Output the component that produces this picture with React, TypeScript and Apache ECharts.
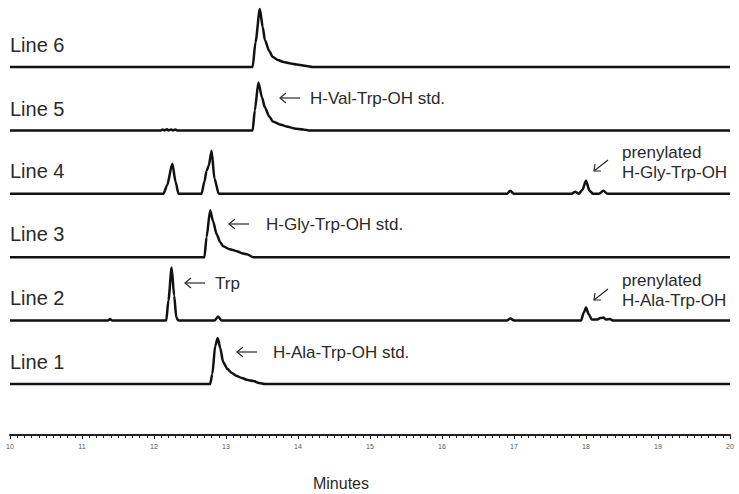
import React, { useEffect, useRef } from "react";
import * as echarts from "echarts";

// Retention time axis (minutes)
const xMin = 10;
const xMax = 20;
const tickLabels = ["10", "11", "12", "13", "14", "15", "16", "17", "18", "19", "20"];

const traceNames = ["Line 1", "Line 2", "Line 3", "Line 4", "Line 5", "Line 6"];

// Detector signal (arbitrary units) per trace, [minutes, signal]
const line1: number[][] = [
  [10, 0], [12.78, 0], [12.81, 10], [12.85, 38], [12.885, 46], [12.92, 36], [12.96, 22],
  [13.02, 15], [13.08, 11], [13.15, 8], [13.22, 6], [13.3, 4], [13.38, 3], [13.46, 1], [13.54, 0], [20, 0],
];
const line2: number[][] = [
  [10, 0], [11.36, 0], [11.39, 1.5], [11.42, 0], [12.17, 0], [12.2, 20], [12.245, 53], [12.28, 25],
  [12.31, 3], [12.34, 0], [12.84, 0], [12.89, 4], [12.94, 0], [16.9, 0], [16.95, 2], [17.0, 0],
  [17.93, 0], [17.97, 8], [18.0, 13], [18.04, 6], [18.08, 1], [18.15, 1], [18.2, 2.5], [18.24, 3],
  [18.28, 1], [18.33, 1.5], [18.38, 0], [20, 0],
];
const line3: number[][] = [
  [10, 0], [12.7, 0], [12.73, 20], [12.78, 47], [12.82, 36], [12.87, 23], [12.92, 15], [12.96, 11],
  [13.05, 8], [13.15, 6], [13.22, 4], [13.29, 3], [13.38, 0], [20, 0],
];
const line4: number[][] = [
  [10, 0], [12.13, 0], [12.18, 8], [12.255, 30], [12.3, 12], [12.34, 0], [12.66, 0], [12.7, 12],
  [12.73, 23], [12.76, 28], [12.8, 43], [12.84, 15], [12.9, 0], [16.9, 0], [16.95, 3], [17.0, 0],
  [17.8, 0], [17.85, 2], [17.9, 0], [17.95, 4], [18.0, 13], [18.05, 3], [18.1, 0], [18.18, 0],
  [18.24, 3], [18.3, 0], [20, 0],
];
const line5: number[][] = [
  [10, 0], [12.1, 0], [12.12, 1], [12.14, 0], [12.18, 1.2], [12.2, 0], [12.24, 1], [12.26, 0],
  [12.3, 0.8], [12.32, 0], [13.37, 0], [13.4, 20], [13.45, 48], [13.5, 33], [13.54, 23], [13.6, 14],
  [13.65, 9], [13.75, 6], [13.84, 4], [13.95, 2], [14.07, 1], [14.15, 0], [20, 0],
];
const line6: number[][] = [
  [10, 0], [13.37, 0], [13.41, 25], [13.47, 58], [13.51, 40], [13.54, 27], [13.6, 16], [13.65, 10],
  [13.72, 7], [13.8, 5], [13.9, 3.5], [13.98, 2.5], [14.12, 1], [14.2, 0], [20, 0],
];
const traces = [line1, line2, line3, line4, line5, line6];

// Vertical stacking of traces (signal units)
const firstOffset = 51;
const offsetStep = 63.4;
const yTop = 435;

const FONT = '"Liberation Sans", Arial, Helvetica, sans-serif';
const INK = "#111";
const TXT = "#2a2a2a";

function leftArrow(x: number, y: number) {
  return [
    { type: "polyline", shape: { points: [[x + 20, y], [x, y]] }, style: { stroke: TXT, lineWidth: 1.2, fill: null } },
    { type: "polyline", shape: { points: [[x + 6, y - 5], [x, y], [x + 6, y + 5]] }, style: { stroke: TXT, lineWidth: 1.2, fill: null } },
  ];
}
function diagArrow(x: number, y: number) {
  // head at (x, y), tail up-right
  return [
    { type: "polyline", shape: { points: [[x + 14, y - 11], [x, y]] }, style: { stroke: TXT, lineWidth: 1.2, fill: null } },
    { type: "polyline", shape: { points: [[x + 1, y - 7], [x, y], [x + 7, y]] }, style: { stroke: TXT, lineWidth: 1.2, fill: null } },
  ];
}
function txt(x: number, y: number, s: string, size: number, align = "left") {
  return {
    type: "text",
    x,
    y,
    style: { text: s, fill: TXT, font: `${size}px ${FONT}`, textAlign: align, textVerticalAlign: "middle" },
  };
}

export default function App() {
  const ref = useRef<HTMLDivElement>(null);
  useEffect(() => {
    if (!ref.current) return;
    const chart = echarts.init(ref.current, null, { renderer: "svg" });
    const series = traces.map((t, i) => ({
      name: traceNames[i],
      type: "line",
      data: t.map(([x, v]) => [x, v + firstOffset + i * offsetStep]),
      showSymbol: false,
      symbol: "none",
      smooth: 0.25,
      smoothMonotone: "x",
      lineStyle: { color: INK, width: 2.5 },
      silent: true,
    }));

    const labelYs = [362, 298, 234, 171, 109, 45];
    const graphic: any[] = [
      ...traceNames.map((n, i) => txt(10, labelYs[i], n, 20)),
      ...leftArrow(280, 98), txt(310, 98, "H-Val-Trp-OH std.", 17),
      ...leftArrow(229, 224), txt(266, 224, "H-Gly-Trp-OH std.", 17),
      ...leftArrow(185, 283), txt(215, 283, "Trp", 17),
      ...leftArrow(237, 352), txt(273, 352, "H-Ala-Trp-OH std.", 17),
      txt(622, 152, "prenylated", 17), txt(622, 172, "H-Gly-Trp-OH", 17), ...diagArrow(594, 171),
      txt(622, 280, "prenylated", 17), txt(622, 300, "H-Ala-Trp-OH", 17), ...diagArrow(594, 300),
      txt(341, 483, "Minutes", 16, "center"),
    ];

    chart.setOption({
      animation: false,
      grid: { left: 10, right: 9, top: 0, bottom: 59, containLabel: false },
      xAxis: {
        type: "value",
        min: xMin,
        max: xMax,
        interval: 1,
        axisLine: { show: true, lineStyle: { color: "#222", width: 2 } },
        axisTick: { show: true, length: 4, lineStyle: { color: "#222", width: 1.2 } },
        minorTick: { show: true, splitNumber: 10, length: 3, lineStyle: { color: "#222", width: 1 } },
        splitLine: { show: false },
        axisLabel: {
          fontSize: 7,
          color: "#555",
          margin: 8,
          fontFamily: FONT,
          formatter: (v: number) => tickLabels[Math.round(v - xMin)] ?? "",
        },
      },
      yAxis: { type: "value", min: 0, max: yTop, show: false, splitLine: { show: false } },
      series,
      graphic,
    });
    return () => chart.dispose();
  }, []);
  return <div ref={ref} style={{ position: "absolute", left: 0, top: 0, width: 739, height: 494 }} />;
}
